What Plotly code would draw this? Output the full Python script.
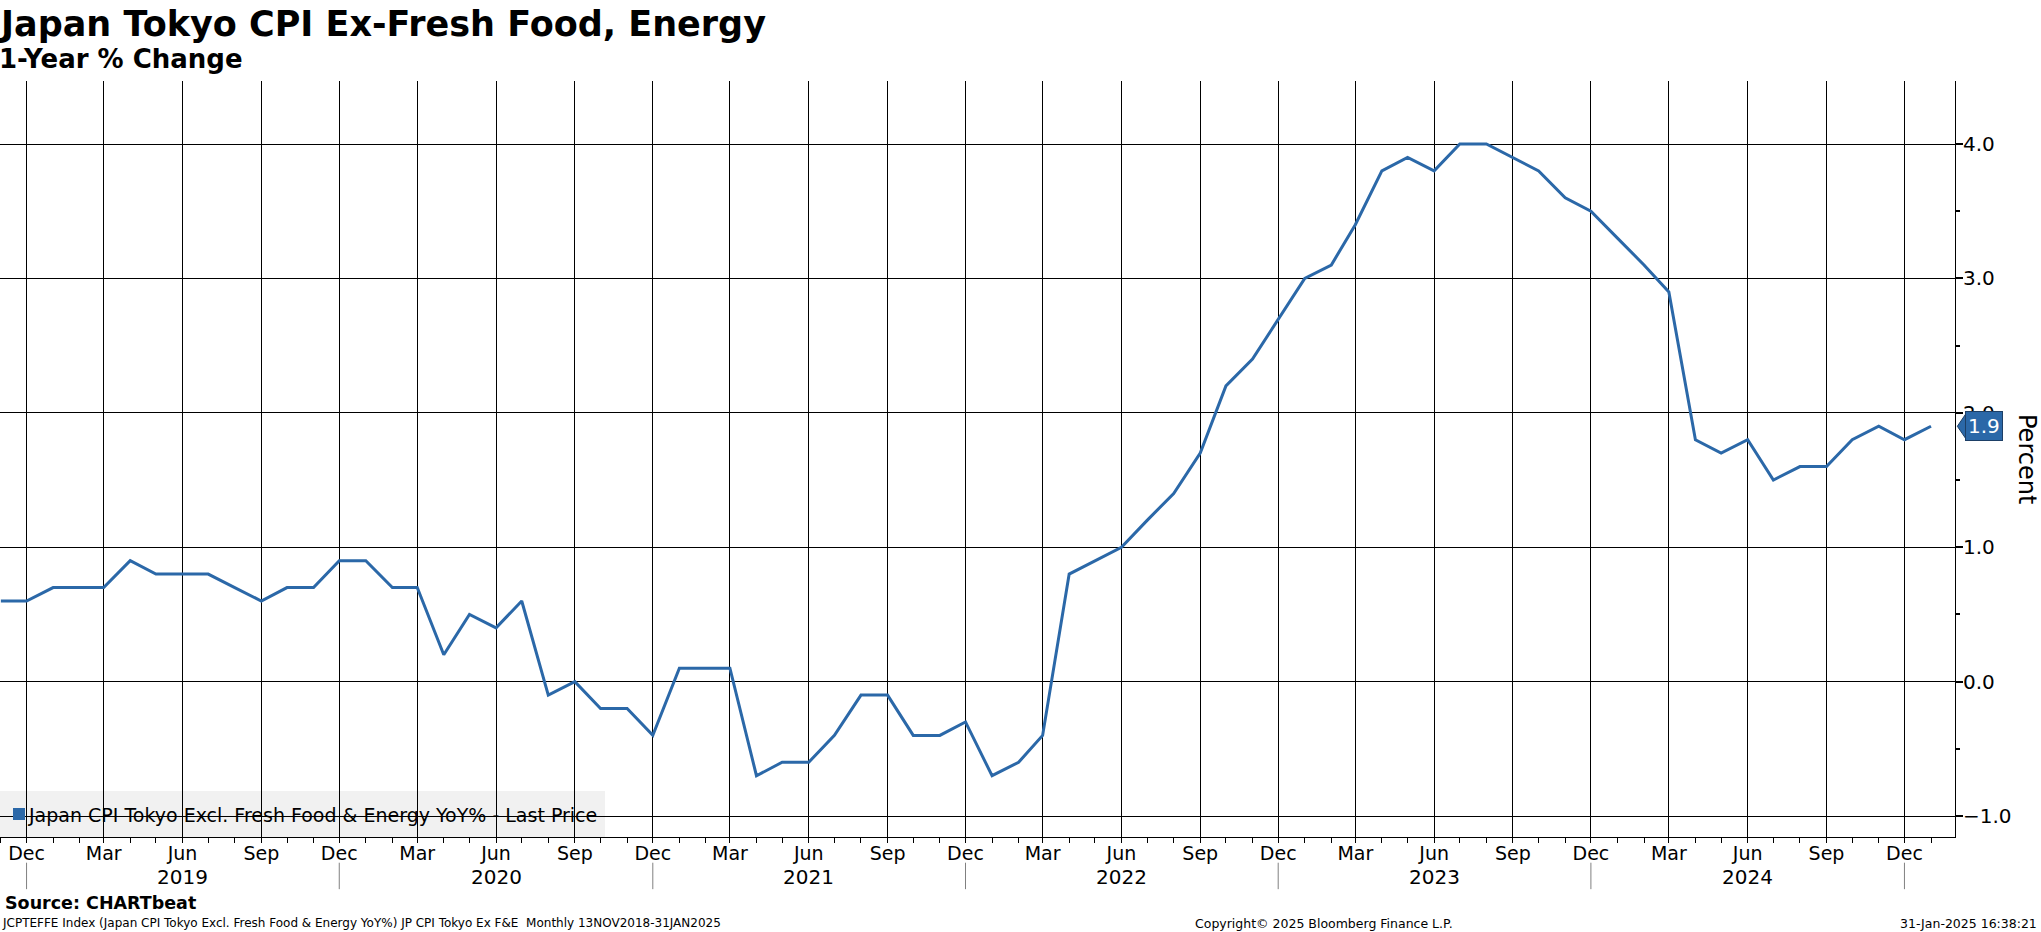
import plotly.graph_objects as go
import pandas as pd

# ---- data ----
months = pd.date_range("2018-11-01", "2025-01-01", freq="MS")
yoy_pct = [
    0.6, 0.6,                                                   # Nov-Dec 2018
    0.7, 0.7, 0.7, 0.9, 0.8, 0.8, 0.8, 0.7, 0.6, 0.7, 0.7, 0.9,  # 2019
    0.9, 0.7, 0.7, 0.2, 0.5, 0.4, 0.6, -0.1, 0.0, -0.2, -0.2, -0.4,  # 2020
    0.1, 0.1, 0.1, -0.7, -0.6, -0.6, -0.4, -0.1, -0.1, -0.4, -0.4, -0.3,  # 2021
    -0.7, -0.6, -0.4, 0.8, 0.9, 1.0, 1.2, 1.4, 1.7, 2.2, 2.4, 2.7,  # 2022
    3.0, 3.1, 3.4, 3.8, 3.9, 3.8, 4.0, 4.0, 3.9, 3.8, 3.6, 3.5,  # 2023
    3.3, 3.1, 2.9, 1.8, 1.7, 1.8, 1.5, 1.6, 1.6, 1.8, 1.9, 1.8,  # 2024
    1.9,                                                        # Jan 2025
]
years = ["2019", "2020", "2021", "2022", "2023", "2024"]
year_centers = [f"{y}-06-01" for y in years]
year_separators = ["2018-12-01", "2019-12-01", "2020-12-01", "2021-12-01",
                   "2022-12-01", "2023-12-01", "2024-12-01"]
y_ticks = [-1, 0, 1, 2, 3, 4]

series_name = "Japan CPI Tokyo Excl. Fresh Food & Energy YoY% - Last Price"
title = "Japan Tokyo CPI Ex-Fresh Food, Energy"
subtitle = "1-Year % Change"

BLUE = "#2b68a8"
FONT = "DejaVu Sans"
PLOT_W = 1955.0
PLOT_H = 756.0

fig = go.Figure()
fig.add_trace(go.Scatter(x=months, y=yoy_pct, mode="lines",
                         line=dict(color=BLUE, width=3), showlegend=False,
                         hoverinfo="x+y"))
fig.add_trace(go.Scatter(x=[None], y=[None], mode="markers",
                         marker=dict(symbol="square", size=12, color="rgba(0,0,0,0)"),
                         name=series_name, showlegend=True))

fig.update_layout(
    width=2041, height=932,
    margin=dict(l=0, r=86, t=81, b=95, autoexpand=False),
    paper_bgcolor="white", plot_bgcolor="white",
    font=dict(family=FONT, color="black", size=19),
    showlegend=True,
    legend=dict(x=-11 / PLOT_W, y=0.03, xanchor="left", yanchor="middle",
                bgcolor="rgba(0,0,0,0)", font=dict(size=19, family=FONT),
                itemwidth=30),
)

fig.update_xaxes(
    type="date", range=["2018-10-31", "2025-01-29"],
    tick0="2018-12-01", dtick="M3", tickformat="%b",
    showgrid=True, gridcolor="black", gridwidth=1,
    ticks="outside", ticklen=5, tickcolor="black", ticklabelstandoff=-6,
    showline=True, linecolor="black", linewidth=1,
    minor=dict(dtick="M1", ticks="outside", ticklen=5, tickcolor="black", showgrid=False),
    tickfont=dict(size=19), zeroline=False, automargin=False,
)
fig.update_yaxes(
    side="right", range=[-1.156, 4.469],
    tickvals=y_ticks, tickformat=".1f",
    showgrid=True, gridcolor="black", gridwidth=1,
    ticks="outside", ticklen=7, tickcolor="black", tickwidth=2, ticklabelstandoff=-4,
    showline=True, linecolor="black", linewidth=1,
    minor=dict(dtick=0.5, ticks="outside", ticklen=4, tickcolor="black", showgrid=False),
    tickfont=dict(size=20), zeroline=False, automargin=False,
)

# legend background panel (below gridlines) and swatch
fig.add_shape(type="rect", xref="paper", yref="paper", x0=0, x1=605 / PLOT_W, y0=0, y1=46 / PLOT_H,
              fillcolor="#f1f1f1", line=dict(width=0), layer="below")
fig.add_shape(type="rect", xref="paper", yref="paper", x0=13 / PLOT_W, x1=25 / PLOT_W,
              y0=(837 - 820) / PLOT_H, y1=(837 - 808) / PLOT_H,
              fillcolor=BLUE, line=dict(width=0), layer="above")

# year labels and separators
for yc, yl in zip(year_centers, years):
    fig.add_annotation(x=yc, y=-0.053, xref="x", yref="paper", text=yl, showarrow=False,
                       font=dict(size=20), xanchor="center", yanchor="middle")
for sep in year_separators:
    fig.add_shape(type="line", xref="x", yref="paper", x0=sep, x1=sep, y0=-0.034, y1=-0.069,
                  line=dict(color="#808080", width=1))

# last value marker
last = yoy_pct[-1]
fig.add_annotation(x=1, y=last, xref="paper", yref="y", text=f"{last:.1f}", showarrow=False,
                   xanchor="left", yanchor="middle", xshift=10,
                   font=dict(size=20, color="white"), bgcolor=BLUE,
                   bordercolor="#1d3f66", borderwidth=1, borderpad=2)
fig.add_shape(type="path", xref="paper", yref="y",
              path=f"M 1.0012 {last} L 1.0058 {last + 0.098} L 1.0058 {last - 0.098} Z",
              fillcolor=BLUE, line=dict(color="#1d3f66", width=1))

# axis title
fig.add_annotation(x=2027 / PLOT_W, y=0.5, xref="paper", yref="paper", text="Percent", textangle=90,
                   showarrow=False, font=dict(size=24), xanchor="center", yanchor="middle")

# titles
fig.add_annotation(x=0, y=1, xref="paper", yref="paper", text=f"<b>{title}</b>", showarrow=False,
                   xanchor="left", yanchor="middle", xshift=-3, yshift=81 - 24,
                   font=dict(size=35))
fig.add_annotation(x=0, y=1, xref="paper", yref="paper", text=f"<b>{subtitle}</b>", showarrow=False,
                   xanchor="left", yanchor="middle", xshift=-3, yshift=81 - 59,
                   font=dict(size=26))

# footer
fig.add_annotation(x=0, y=0, xref="paper", yref="paper", text="<b>Source: CHARTbeat</b>",
                   showarrow=False, xanchor="left", yanchor="middle", xshift=3, yshift=-(903 - 837),
                   font=dict(size=17.5))
fig.add_annotation(x=0, y=0, xref="paper", yref="paper",
                   text="JCPTEFFE Index (Japan CPI Tokyo Excl. Fresh Food &amp; Energy YoY%) JP CPI Tokyo Ex F&amp;E  Monthly 13NOV2018-31JAN2025",
                   showarrow=False, xanchor="left", yanchor="middle", xshift=0, yshift=-(923 - 837),
                   font=dict(size=12))
fig.add_annotation(x=1324 / PLOT_W, y=0, xref="paper", yref="paper",
                   text="Copyright© 2025 Bloomberg Finance L.P.",
                   showarrow=False, xanchor="center", yanchor="middle", yshift=-(923 - 837),
                   font=dict(size=12.5))
fig.add_annotation(x=2039 / PLOT_W, y=0, xref="paper", yref="paper",
                   text="31-Jan-2025 16:38:21",
                   showarrow=False, xanchor="right", yanchor="middle", yshift=-(923 - 837),
                   font=dict(size=12.5))

fig.write_html("out.html", config={"displayModeBar": False},
               post_script="document.body.style.margin='0';document.body.style.overflow='hidden';")
